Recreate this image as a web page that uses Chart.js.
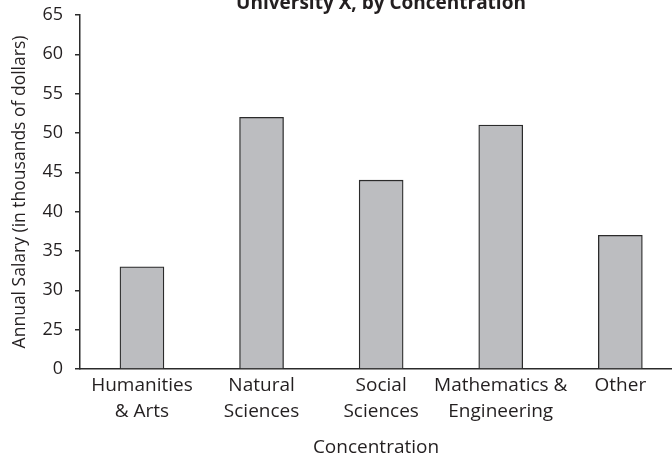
<!DOCTYPE html>
<html>
<head>
<meta charset="utf-8">
<script src="https://cdn.jsdelivr.net/npm/chart.js@4/dist/chart.umd.min.js"></script>
<style>
  html, body { margin: 0; padding: 0; background: #fff; }
  #wrap { width: 672px; height: 459px; position: relative; }
</style>
</head>
<body>
<div id="wrap"><canvas id="c" width="672" height="459"></canvas></div>
<script>
// Average annual starting salary by concentration (thousands of dollars)
const categories = [
  ['Humanities', '& Arts'],
  ['Natural', 'Sciences'],
  ['Social', 'Sciences'],
  ['Mathematics &', 'Engineering'],
  ['Other']
];
const salaries = [33, 52, 44, 51, 37];

// Broken value axis: 0, then 25 to 65 in steps of 5
const yTickValues = [0, 25, 30, 35, 40, 45, 50, 55, 60, 65];
const yTickLabels = ['0', '25', '30', '35', '40', '45', '50', '55', '60', '65'];

const titleText = 'University X, by Concentration';
const xTitle = 'Concentration';
const yTitle = 'Annual Salary (in thousands of dollars)';

// Map a salary onto the broken axis (each tick interval is one unit)
function axisPos(v) {
  for (let i = 1; i < yTickValues.length; i++) {
    const lo = yTickValues[i - 1], hi = yTickValues[i];
    if (v <= hi) return (i - 1) + (v - lo) / (hi - lo);
  }
  return yTickValues.length - 1;
}

const FONT = '"Open Sans", "DejaVu Sans", sans-serif';
const INK = '#231f20';
const LINE = '#2b2b2b';

const topTitle = {
  id: 'topTitle',
  afterDraw(chart) {
    const ctx = chart.ctx;
    const a = chart.chartArea;
    ctx.save();
    ctx.font = 'bold 19px ' + FONT;
    ctx.fillStyle = INK;
    ctx.textAlign = 'center';
    ctx.textBaseline = 'alphabetic';
    ctx.fillText(titleText, (a.left + a.right) / 2 + 5, 9);
    ctx.restore();
  }
};

new Chart(document.getElementById('c'), {
  type: 'bar',
  data: {
    datasets: [{
      data: salaries.map((v, i) => ({ x: i, y: axisPos(v) })),
      backgroundColor: '#bcbdc0',
      borderColor: LINE,
      borderWidth: 1.3,
      barThickness: 44
    }]
  },
  options: {
    responsive: false,
    animation: false,
    layout: { padding: { top: 15, right: 0, bottom: 0, left: 0 } },
    plugins: { legend: { display: false }, tooltip: { enabled: false }, title: { display: false } },
    scales: {
      x: {
        type: 'linear',
        offset: false,
        min: -0.518,
        max: 4.432,
        afterBuildTicks(s) { s.ticks = categories.map((_, i) => ({ value: i })); },
        afterFit(s) { s.height = 90; s.paddingLeft = 0; s.paddingRight = 0; },
        grid: { drawOnChartArea: false, drawTicks: false },
        border: { display: true, color: LINE, width: 1.5 },
        ticks: {
          color: INK,
          font: { family: FONT, size: 19, lineHeight: 1.37 },
          padding: 4,
          maxRotation: 0,
          autoSkip: false,
          callback: (v) => categories[v]
        },
        title: {
          display: true,
          text: xTitle,
          color: INK,
          font: { family: FONT, size: 19 },
          padding: { top: 0, bottom: 0 }
        }
      },
      y: {
        type: 'linear',
        min: 0,
        max: yTickValues.length - 1,
        afterBuildTicks(s) { s.ticks = yTickValues.map((_, i) => ({ value: i })); },
        afterFit(s) { s.width = 80; s.paddingTop = 0; s.paddingBottom = 0; },
        grid: { drawOnChartArea: false, drawTicks: true, tickLength: 5, color: LINE, lineWidth: 1.5 },
        border: { display: true, color: LINE, width: 1.5 },
        ticks: {
          color: INK,
          font: { family: FONT, size: 18 },
          padding: 12,
          callback: (v) => yTickLabels[v]
        },
        title: {
          display: true,
          text: yTitle,
          color: INK,
          font: { family: FONT, size: 17.5 },
          padding: { top: 10, bottom: 0 }
        }
      }
    }
  },
  plugins: [topTitle]
});
</script>
</body>
</html>
